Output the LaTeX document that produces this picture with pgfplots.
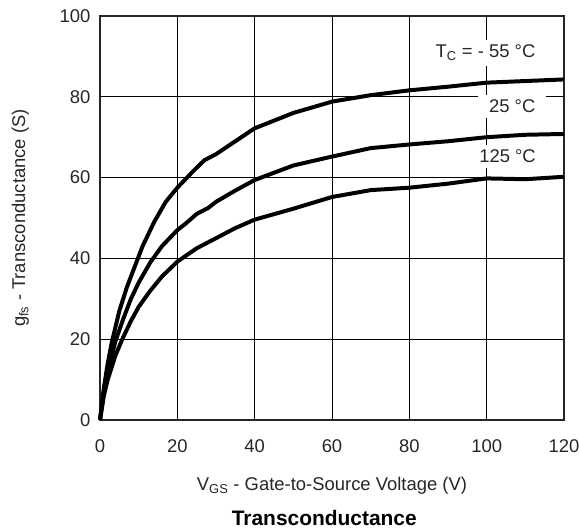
\documentclass[border=0pt]{standalone}
\usepackage{pgfplots}
\pgfplotsset{compat=1.18}
\usepackage{fontspec}
\setmainfont{Liberation Sans}

\begin{document}
\begin{tikzpicture}
\path[use as bounding box] (-100bp,-111bp) rectangle (480bp,420bp);
\begin{axis}[
  scale only axis,
  width=464bp, height=404bp,
  xmin=0, xmax=120, ymin=0, ymax=100,
  xtick={0,20,...,120}, ytick={0,20,...,100},
  grid=major,
  major grid style={black, line width=0.8pt},
  axis line style={black!85, line width=1.1pt},
  major tick length=0pt,
  tick label style={font=\fontsize{18.5}{21}\selectfont, text=black!85, /pgf/number format/assume math mode=true},
  xticklabel style={yshift=-16bp},
  yticklabel style={xshift=-6bp},
  xlabel={V\textsubscript{GS} - Gate-to-Source Voltage (V)},
  ylabel={g\textsubscript{fs} - Transconductance (S)},
  label style={font=\fontsize{18.5}{22}\selectfont, text=black!85},
  xlabel style={yshift=-18bp},
  ylabel style={yshift=24bp},
  clip=false,
]
% T_C = -55 C
\addplot[black, line width=4pt, line join=round] coordinates {
 (0,0) (1,8) (2,14) (3,19) (5,27) (7,33) (9,38) (11,43) (14,49) (17,54)
 (20,57.5) (24,61.5) (27,64.3) (30,65.8) (35,69) (40,72.2) (50,76)
 (60,78.8) (70,80.4) (80,81.6) (90,82.5) (100,83.5) (110,83.9) (120,84.3)};
% T_C = 25 C
\addplot[black, line width=4pt, line join=round] coordinates {
 (0,0) (1,7) (2,12) (4,19.5) (6,25) (8,30) (10,34) (13,39) (16,43)
 (20,47) (22,48.5) (25,51) (28,52.5) (30,54) (35,56.8) (40,59.4) (50,63)
 (60,65.2) (70,67.3) (80,68.2) (90,69) (100,70) (110,70.6) (120,70.8)};
% T_C = 125 C
\addplot[black, line width=4pt, line join=round] coordinates {
 (0,0) (1,6) (2,10) (4,16) (6,20.5) (8,24.5) (10,28) (13,32) (16,35.5)
 (20,39.2) (25,42.5) (30,45) (35,47.5) (40,49.6) (50,52.3) (60,55.2)
 (70,56.9) (80,57.5) (90,58.5) (100,59.8) (110,59.6) (120,60.2)};

\begin{scope}[every node/.style={fill=white, text=black!85, inner ysep=5bp, font=\fontsize{18.5}{21}\selectfont}]
\node[inner xsep=3bp] at (axis cs:99.7,90.9) {T\textsubscript{C} = - 55 °C};
\node[inner xsep=11bp] at (axis cs:106.6,77.6) {25 °C};
\node[inner xsep=6bp] at (axis cs:105.4,65.2) {125 °C};
\end{scope}

\node[font=\bfseries\fontsize{21}{24}\selectfont] at (axis cs:58,-24.3) {Transconductance};
\end{axis}
\end{tikzpicture}
\end{document}
